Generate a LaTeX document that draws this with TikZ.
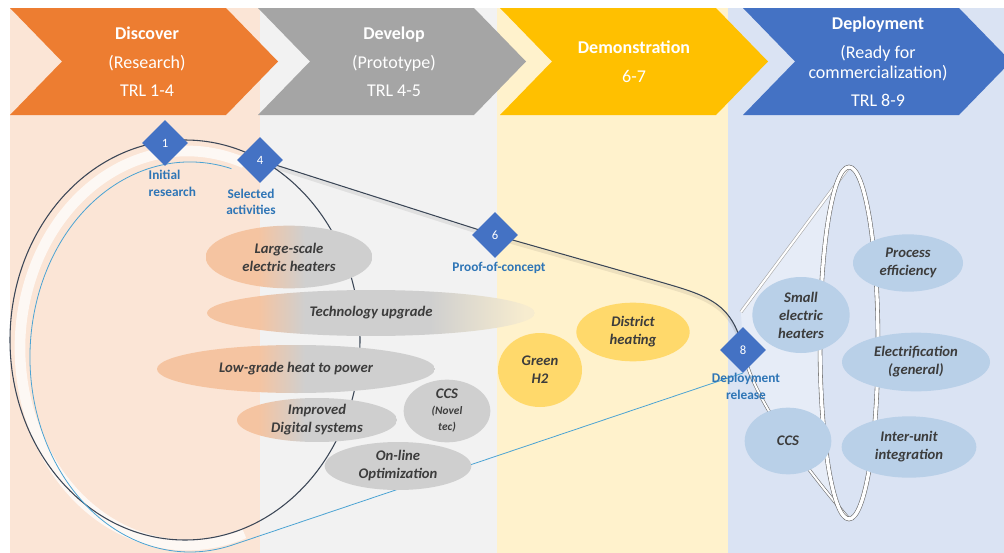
\documentclass[tikz,border=0pt]{standalone}
\usepackage{fontspec}
\setmainfont{Carlito}
\usetikzlibrary{shapes.geometric}
\usetikzlibrary{positioning}

\definecolor{bgpeach}{HTML}{FBE5D6}
\definecolor{bggray}{HTML}{F2F2F2}
\definecolor{bgyellow}{HTML}{FFF2CC}
\definecolor{bgblue}{HTML}{DAE3F3}
\definecolor{stageorange}{HTML}{ED7D31}
\definecolor{stagegray}{HTML}{A5A5A5}
\definecolor{stageyellow}{HTML}{FFC000}
\definecolor{stageblue}{HTML}{4472C4}
\definecolor{msblue}{HTML}{4472C4}
\definecolor{lblblue}{HTML}{2E75B6}
\definecolor{itempeach}{HTML}{F5C4A1}
\definecolor{itemgray}{HTML}{CFCFCF}
\definecolor{itemcream}{HTML}{F7ECCF}
\definecolor{itemyellow}{HTML}{FFD96B}
\definecolor{itemblue}{HTML}{B9D0E8}
\definecolor{itemtext}{HTML}{3C3C3C}
\definecolor{loopdark}{HTML}{3B4656}
\definecolor{loopblue}{HTML}{4BA3D3}
\definecolor{rimgray}{HTML}{6E6E6E}

\tikzset{stage/.style={text=white, align=center, inner sep=0pt,
font=\fontsize{13.5}{15}\selectfont},
ms/.style={diamond, fill=msblue, text=white, minimum size=34.5pt, inner sep=0pt,
font=\fontsize{9.5}{10}\selectfont},
mslabel/.style={text=lblblue, align=center, inner sep=0pt,
font=\bfseries\fontsize{10}{12.5}\selectfont},
item/.style={ellipse, inner sep=0pt, align=center, text=itemtext,
font=\bfseries\itshape\fontsize{11}{13.5}\selectfont},
warm/.style={item, path picture={
\fill[itempeach] (path picture bounding box.south west) rectangle (ga |- path picture bounding box.north);
\shade[left color=itempeach, right color=itemgray] (ga |- path picture bounding box.south) rectangle (gb |- path picture bounding box.north);
\fill[itemgray] (gb |- path picture bounding box.south) rectangle (path picture bounding box.north east);}},
fade/.style={item, path picture={
\fill[itempeach] (path picture bounding box.south west) rectangle (ga |- path picture bounding box.north);
\shade[left color=itempeach, right color=itemgray] (ga |- path picture bounding box.south) rectangle (gb |- path picture bounding box.north);
\fill[itemgray] (gb |- path picture bounding box.south) rectangle (gc |- path picture bounding box.north);
\shade[left color=itemgray, right color=itemcream] (gc |- path picture bounding box.south) rectangle (gd |- path picture bounding box.north);
\fill[itemcream] (gd |- path picture bounding box.south) rectangle (path picture bounding box.north east);}},
cool/.style={item, fill=itemgray},
sun/.style={item, fill=itemyellow},
sky/.style={item, fill=itemblue},
loopline/.style={draw=loopdark, line width=0.8pt},
blueline/.style={draw=loopblue, line width=0.6pt},
rim/.style={draw=rimgray, line width=0.45pt, double=white, double distance=1.5pt}}

\begin{document}
\begin{tikzpicture}[x=0.75pt, y=-0.75pt]
\useasboundingbox (0,0) rectangle (1004,553);
% columns
\fill[bgpeach] (10,8) rectangle (260,553);
\fill[bggray] (260,8) rectangle (497,553);
\fill[bgyellow] (497,8) rectangle (728,553);
\fill[bgblue] (728,8) rectangle (1004,553);
% stage arrows
\foreach \x/\c in {10/stageorange, 258/stagegray, 500/stageyellow, 743/stageblue}
\fill[\c] (\x,8) -- ++(216,0) -- ++(52,53.5) -- ++(-52,53.5) -- ++(-216,0) -- ++(52,-53.5) -- cycle;
\node[stage] (discover) at (147,62) {\textbf{Discover}\\[6.5pt](Research)\\[6.5pt]TRL 1-4};
\node[stage] (develop) at (394,62) {\textbf{Develop}\\[6.5pt](Prototype)\\[6.5pt]TRL 4-5};
\node[stage] (demo) at (634,62) {\textbf{Demonstration}\\[6.5pt]6-7};
\node[stage] (deploy) at (878,62) {\textbf{Deployment}\\[6.5pt](Ready for\\commercialization)\\[6.5pt]TRL 8-9};

\coordinate (p1) at (165,143);
\coordinate (p4) at (260,160);
\coordinate (p6) at (495,235);
\coordinate (p8) at (743,350);
\coordinate (p8s) at (743,373);
\coordinate (bend) at (650,279);
\coordinate (cl) at (185,340);
\coordinate (cb) at (190,357);
\coordinate (cg) at (187,348);
\coordinate (ce) at (849,343);
\coordinate (et) at (849,167);
\coordinate (eb) at (849,519);
\coordinate (ct) at (741,312);
\coordinate (ga) at (258,0);
\coordinate (gb) at (305,0);
\coordinate (gc) at (430,0);
\coordinate (gd) at (525,0);

% funnel
\fill[white, opacity=.35] (ct) -- (et) arc[start angle=90, end angle=270, x radius=21.75pt, y radius=132pt]
.. controls (795,455) and (752,395) .. (p8) -- cycle;
\draw[white, opacity=.75, line width=8pt] (cg) ++(70:125.25pt and 147.75pt)
arc[start angle=70, end angle=290, x radius=125.25pt, y radius=147.75pt];
\draw[loopline] (cl) ellipse [x radius=131.25pt, y radius=150pt];
\draw[blueline] (cb) ++(75:120pt and 146.25pt)
arc[start angle=75, end angle=285, x radius=120pt, y radius=146.25pt] -- (p8s);
\draw[black, opacity=.07, line width=2.5pt, transform canvas={yshift=-2pt}]
(p4) -- (p6) -- (bend) .. controls (705,295) and (732,300) .. (p8);
\draw[loopline] (p4) -- (p6) -- (bend) .. controls (705,295) and (732,300) .. (p8);
\draw[rim] (p8) .. controls (752,395) and (795,455) .. (eb);
\draw[rim, draw=rimgray!60] (ct) -- (et);
\draw[rim, double distance=2.5pt] (ce) ellipse [x radius=21.75pt, y radius=132pt];

% activities
\node[warm, minimum width=125pt, minimum height=47pt] (heaters) at (289,257) {Large-scale\\electric heaters};
\node[fade, minimum width=246pt, minimum height=34.5pt] (upgrade) at (371,313) {Technology upgrade};
\node[warm, minimum width=208.5pt, minimum height=36pt] (lowgrade) at (296,369) {Low-grade heat to power};
\node[warm, minimum width=120pt, minimum height=33pt] (digital) at (317,420) {Improved\\Digital systems};
\node[cool, minimum width=65pt, minimum height=47pt] (ccsnovel) at (447,411)
{CCS\\[-2pt]{\fontsize{8.5}{10}\selectfont(Novel}\\[-1pt]{\fontsize{8.5}{10}\selectfont tec)}};
\node[cool, minimum width=110pt, minimum height=36pt] (online) at (398,466) {On-line\\Optimization};
\node[sun, minimum width=85pt, minimum height=44pt] (district) at (633,332) {District\\heating};
\node[sun, minimum width=63pt, minimum height=55.5pt] (greenh2) at (540,370) {Green\\H2};
\node[sky, minimum width=73pt, minimum height=57pt] (smallheaters) at (801,315) {Small\\electric\\heaters};
\node[sky, minimum width=82.5pt, minimum height=43pt] (efficiency) at (908,263) {Process\\efficiency};
\node[sky, minimum width=111pt, minimum height=44pt] (electrification) at (916,362) {Electrification\\(general)};
\node[sky, minimum width=65pt, minimum height=50pt] (ccs) at (788,441) {CCS};
\node[sky, minimum width=101pt, minimum height=46pt] (interunit) at (909,447) {Inter-unit\\integration};

% milestones
\node[ms] (d1) at (p1) {1};
\node[ms] (d4) at (p4) {4};
\node[ms] (d6) at (p6) {6};
\node[ms] (d8) at (p8) {8};
\node[mslabel, align=left, below=3pt of d1, xshift=5.5pt] (l1) {Initial\\research};
\node[mslabel, below=4pt of d4, xshift=-6.75pt] (l4) {Selected\\activities};
\node[mslabel, below=3pt of d6, xshift=3pt] (l6) {Proof-of-concept};
\node[mslabel, below=0pt of d8, xshift=2.25pt] (l8) {Deployment\\release};
\end{tikzpicture}
\end{document}
